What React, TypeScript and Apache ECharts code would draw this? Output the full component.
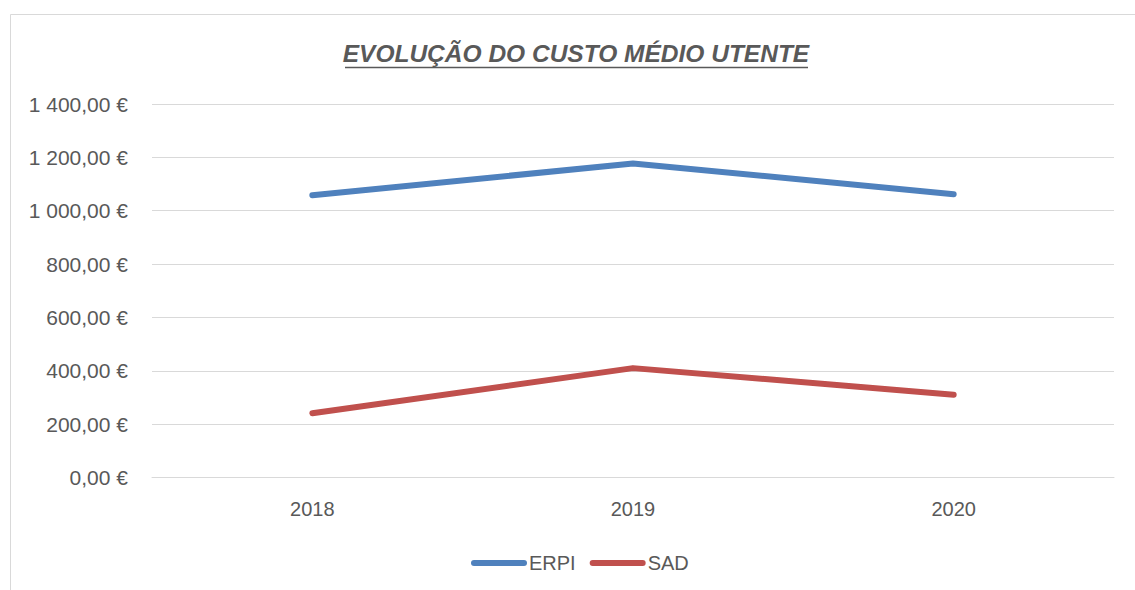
import React, { useEffect, useRef } from "react";
import * as echarts from "echarts";

const categories = ["2018", "2019", "2020"];
const erpiValues = [1058, 1177, 1062];
const sadValues = [241, 410, 310];
const seriesNames = ["ERPI", "SAD"];
const titleText = "EVOLUÇÃO DO CUSTO MÉDIO UTENTE";

const FONT = "'Liberation Sans', Arial, sans-serif";
const TEXT_COLOR = "#595959";

function formatEuro(v: number): string {
  const [intPart, dec] = v.toFixed(2).split(".");
  const grouped = intPart.replace(/\B(?=(\d{3})+(?!\d))/g, " ");
  return `${grouped},${dec} €`;
}

export default function App() {
  const ref = useRef<HTMLDivElement>(null);

  useEffect(() => {
    if (!ref.current) return;
    const chart = echarts.init(ref.current, undefined, { renderer: "svg" });
    const pill = "path://M3,0 L53,0 A3,3 0 0 1 53,6 L3,6 A3,3 0 0 1 3,0 Z";
    chart.setOption({
      animation: false,
      backgroundColor: "#ffffff",
      textStyle: { fontFamily: FONT },
      graphic: [
        {
          type: "rect",
          shape: { x: 10.5, y: 14.5, width: 1140, height: 600 },
          style: { fill: "none", stroke: "#d9d9d9", lineWidth: 1 },
          silent: true,
        },
        {
          type: "text",
          x: 576,
          y: 53,
          style: {
            text: titleText,
            font: `italic bold 24.5px ${FONT}`,
            fill: TEXT_COLOR,
            align: "center",
            verticalAlign: "middle",
          },
        },
        {
          type: "line",
          shape: { x1: 345, y1: 67.5, x2: 808, y2: 67.5 },
          style: { stroke: TEXT_COLOR, lineWidth: 1.5 },
        },
      ],
      grid: { left: 152, right: 21, top: 104, bottom: 112.5, containLabel: false },
      xAxis: {
        type: "category",
        data: categories,
        boundaryGap: true,
        axisLine: { show: true, lineStyle: { color: "#d9d9d9", width: 1 } },
        axisTick: { show: false },
        axisLabel: { color: TEXT_COLOR, fontSize: 20, margin: 21, fontFamily: FONT },
      },
      yAxis: {
        type: "value",
        min: 0,
        max: 1400,
        interval: 200,
        axisLine: { show: false },
        axisTick: { show: false },
        splitLine: { show: true, lineStyle: { color: "#d9d9d9", width: 1 } },
        axisLabel: {
          color: TEXT_COLOR,
          fontSize: 21,
          margin: 24,
          fontFamily: FONT,
          formatter: (v: number) => formatEuro(v),
        },
      },
      legend: {
        left: 466,
        top: 548,
        itemWidth: 56,
        itemHeight: 6,
        itemGap: 14,
        textStyle: { color: TEXT_COLOR, fontSize: 20, fontFamily: FONT, padding: [0, 0, 0, -3] },
        data: [
          { name: seriesNames[0], icon: pill },
          { name: seriesNames[1], icon: pill },
        ],
      },
      series: [
        {
          name: seriesNames[0],
          type: "line",
          data: erpiValues,
          symbol: "none",
          lineStyle: { color: "#4F81BD", width: 6, cap: "round", join: "round" },
          itemStyle: { color: "#4F81BD" },
        },
        {
          name: seriesNames[1],
          type: "line",
          data: sadValues,
          symbol: "none",
          lineStyle: { color: "#C0504D", width: 6, cap: "round", join: "round" },
          itemStyle: { color: "#C0504D" },
        },
      ],
    });
    return () => chart.dispose();
  }, []);

  return (
    <div
      ref={ref}
      style={{ position: "absolute", left: 0, top: 0, width: 1135, height: 590 }}
    />
  );
}
